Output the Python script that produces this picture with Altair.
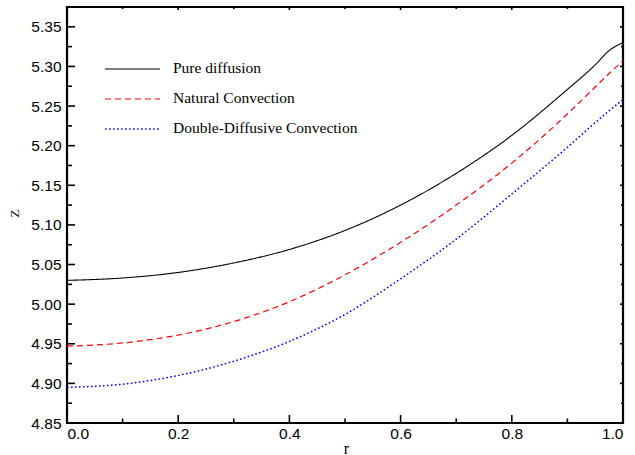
import altair as alt
import pandas as pd

# ---- data ----
r_vals = [0.0, 0.1, 0.2, 0.3, 0.4, 0.5, 0.6, 0.7, 0.8, 0.9, 0.95, 0.975, 1.0]
pure_diffusion = [5.030, 5.033, 5.040, 5.052, 5.069, 5.093, 5.125, 5.165, 5.213, 5.271, 5.302, 5.320, 5.330]
natural_conv = [4.947, 4.951, 4.961, 4.978, 5.003, 5.037, 5.078, 5.125, 5.178, 5.240, 5.274, 5.291, 5.307]
double_diff = [4.895, 4.899, 4.910, 4.928, 4.953, 4.987, 5.032, 5.082, 5.139, 5.198, 5.229, 5.244, 5.258]

series_names = ["Pure diffusion", "Natural Convection", "Double-Diffusive Convection"]
series_values = [pure_diffusion, natural_conv, double_diff]
series_colors = ["#000000", "#ff0000", "#0000ff"]
series_dash = [[1, 0], [6, 4], [1.6, 2.4]]
series_width = [1.1, 1.2, 1.5]

x_major = [0.0, 0.2, 0.4, 0.6, 0.8, 1.0]
x_minor = [0.1, 0.3, 0.5, 0.7, 0.9]
y_major = [4.85, 4.90, 4.95, 5.00, 5.05, 5.10, 5.15, 5.20, 5.25, 5.30, 5.35]
y_minor = [4.875, 4.925, 4.975, 5.025, 5.075, 5.125, 5.175, 5.225, 5.275, 5.325]
x_domain = [0.0, 1.0]
y_domain = [4.85, 5.375]

W, H = 556, 416

xs = alt.Scale(domain=x_domain, nice=False, zero=False)
ys = alt.Scale(domain=y_domain, nice=False, zero=False)

x_axis = alt.Axis(values=x_major, format=".1f", ticks=False, domain=False, grid=False,
                  labelFont="Liberation Sans", labelFontSize=15.5, labelColor="black",
                  labelPadding=3, title="r", titleFont="Liberation Serif", titleFontSize=16,
                  titleFontWeight="normal", titleColor="black", titleX=279, titleY=17,
                  titleBaseline="top", titleAlign="center")
y_axis = alt.Axis(values=y_major, format=".2f", ticks=False, domain=False, grid=False,
                  labelFont="Liberation Sans", labelFontSize=15.5, labelColor="black",
                  labelPadding=6, title="Z", titleFont="Liberation Serif", titleFontSize=13,
                  titleFontWeight="normal", titleColor="black", titleX=-53, titleY=206,
                  titleAngle=270, titleAlign="center", titleBaseline="middle")

layers = []
for i, (name, vals) in enumerate(zip(series_names, series_values)):
    df = pd.DataFrame({"r": r_vals, "z": vals})
    layers.append(
        alt.Chart(df).mark_line(color=series_colors[i], strokeDash=series_dash[i],
                                strokeWidth=series_width[i], interpolate="monotone").encode(
            x=alt.X("r:Q", scale=xs, axis=x_axis, title="r"),
            y=alt.Y("z:Q", scale=ys, axis=y_axis, title="Z"),
        )
    )

# ---- inside tick marks ----
def xticks(vals, y0, y1):
    return alt.Chart(pd.DataFrame({"r": vals})).mark_rule(color="black", strokeWidth=1.6).encode(
        x=alt.X("r:Q", scale=xs, axis=x_axis, title="r"), y=alt.value(y0), y2=alt.value(y1))

def yticks(vals, x0, x1):
    return alt.Chart(pd.DataFrame({"z": vals})).mark_rule(color="black", strokeWidth=1.6).encode(
        y=alt.Y("z:Q", scale=ys, axis=y_axis, title="Z"), x=alt.value(x0), x2=alt.value(x1))

layers += [
    xticks(x_major, H, H - 8), xticks(x_minor, H, H - 4.5),
    xticks(x_major, 0, 3), xticks(x_minor, 0, 2),
    yticks(y_major, 0, 8), yticks(y_minor, 0, 5),
    yticks(y_major, W, W - 3), yticks(y_minor, W, W - 2),
]

# ---- legend ----
leg_y = [62, 92, 122]
for i, name in enumerate(series_names):
    ldf = pd.DataFrame({"label": [name]})
    layers.append(alt.Chart(ldf).mark_rule(color=series_colors[i], strokeDash=series_dash[i],
                                           strokeWidth=series_width[i]).encode(
        x=alt.value(38), x2=alt.value(93), y=alt.value(leg_y[i])))
    layers.append(alt.Chart(ldf).mark_text(align="left", baseline="middle", font="Liberation Serif",
                                           fontSize=15.5, color="black").encode(
        x=alt.value(106), y=alt.value(leg_y[i] - 1), text="label:N"))

chart = alt.layer(*layers).properties(
    width=W, height=H,
    background="white",
    autosize=alt.AutoSizeParams(type="none"),
    padding={"left": 67, "top": 7, "right": 12, "bottom": 32},
).configure_view(stroke="black", strokeWidth=2.2)

chart.save("out.html", embed_options={"renderer": "svg", "actions": False})
